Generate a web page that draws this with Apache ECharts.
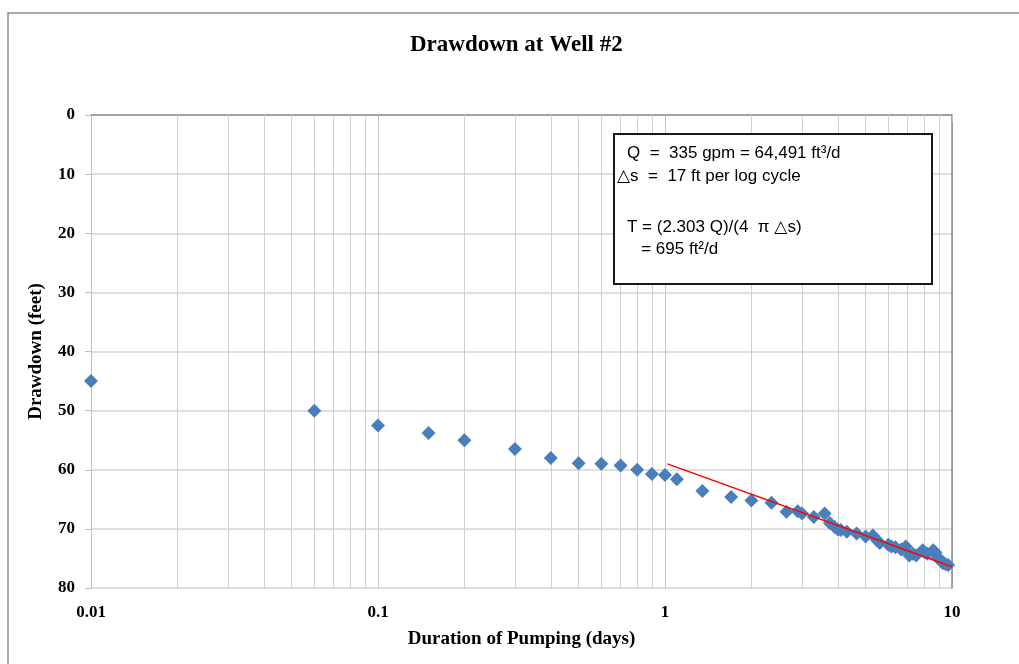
<!DOCTYPE html>
<html>
<head>
<meta charset="utf-8">
<script src="https://cdn.jsdelivr.net/npm/echarts@6/dist/echarts.min.js"></script>
<style>html,body{margin:0;padding:0;background:#fff}#c{width:1019px;height:664px}</style>
</head>
<body>
<div id="c"></div>
<script>
var days = [0.01, 0.06, 0.1, 0.15, 0.2, 0.3, 0.4, 0.5, 0.6, 0.7, 0.8, 0.9, 1.0, 1.1, 1.35, 1.7, 2.0, 2.35, 2.65, 2.9, 3.0, 3.3, 3.6, 3.75, 3.9, 4.0, 4.1, 4.3, 4.65, 5.0, 5.3, 5.5, 5.6, 6.0, 6.15, 6.35, 6.65, 6.9, 7.1, 7.3, 7.5, 7.9, 8.0, 8.2, 8.6, 8.75, 8.9, 9.1, 9.3, 9.5, 9.7];
var drawdown = [45, 50, 52.5, 53.8, 55, 56.5, 58, 58.9, 59, 59.3, 60, 60.7, 60.9, 61.6, 63.6, 64.6, 65.2, 65.6, 67.1, 67.0, 67.4, 68.0, 67.4, 69.0, 69.7, 70.1, 70.2, 70.5, 70.8, 71.3, 71.1, 72.0, 72.4, 72.7, 73.0, 73.1, 73.5, 73.0, 74.5, 74.2, 74.5, 73.6, 73.9, 74.2, 73.6, 74.0, 74.9, 75.2, 75.8, 76.0, 76.1];
var fitDays = [1.02, 10];
var fitDrawdown = [59, 76.4];
var minorTicks = [0.02,0.03,0.04,0.05,0.06,0.07,0.08,0.09,0.2,0.3,0.4,0.5,0.6,0.7,0.8,0.9,2,3,4,5,6,7,8,9];
var yTicks = [0, 10, 20, 30, 40, 50, 60, 70, 80];

var serif = "'Liberation Serif','DejaVu Serif',serif";
var sans = "'Liberation Sans','DejaVu Sans',sans-serif";

var chart = echarts.init(document.getElementById('c'), null, {renderer: 'canvas'});
var pts = days.map(function (d, i) { return [d, drawdown[i]]; });
var fit = fitDays.map(function (d, i) { return [d, fitDrawdown[i]]; });

chart.setOption({
  animation: false,
  backgroundColor: '#fff',
  title: {
    text: 'Drawdown at Well #2',
    left: 405, top: 29,
    textStyle: {fontFamily: serif, fontWeight: 'bold', fontSize: 23, color: '#000'}
  },
  grid: {left: 91, right: 67, top: 115, bottom: 76, containLabel: false},
  xAxis: [{
    type: 'log', logBase: 10, min: 0.01, max: 10,
    position: 'bottom',
    name: 'Duration of Pumping (days)', nameLocation: 'middle', nameGap: 42,
    nameTextStyle: {fontFamily: serif, fontWeight: 'bold', fontSize: 19, color: '#000'},
    axisLine: {show: false},
    axisTick: {show: true, length: 7, lineStyle: {color: '#bfbfbf'}},
    axisLabel: {fontFamily: serif, fontWeight: 'bold', fontSize: 17, color: '#000', margin: 16,
      formatter: function (v) { return String(+v.toPrecision(3)); }},
    splitLine: {show: true, lineStyle: {color: '#c8c8c8', width: 1}}
  }, {
    type: 'log', logBase: 10, min: 0.01, max: 10, position: 'top',
    axisLine: {show: true, lineStyle: {color: '#8c8c8c', width: 1.5}},
    axisTick: {show: false}, axisLabel: {show: false}, splitLine: {show: false}
  }],
  yAxis: [{
    type: 'value', inverse: true, min: 0, max: 80, interval: 10,
    name: 'Drawdown (feet)', nameLocation: 'middle', nameGap: 45, nameRotate: 90,
    nameTextStyle: {fontFamily: serif, fontWeight: 'bold', fontSize: 19, color: '#000'},
    axisLine: {show: true, lineStyle: {color: '#bfbfbf'}},
    axisTick: {show: true, length: 6, lineStyle: {color: '#bfbfbf'}},
    axisLabel: {fontFamily: serif, fontWeight: 'bold', fontSize: 17, color: '#000', margin: 16},
    splitLine: {show: true, lineStyle: {color: '#d4d4d4', width: 1.5}}
  }, {
    type: 'value', inverse: true, min: 0, max: 80, interval: 10, position: 'right',
    axisLine: {show: true, lineStyle: {color: '#8c8c8c', width: 1.5}},
    axisTick: {show: false}, axisLabel: {show: false}, splitLine: {show: false}
  }],
  series: [{
    type: 'scatter', name: 'minor', data: [], z: 1,
    markLine: {
      silent: true, symbol: 'none', label: {show: false}, z: 1,
      lineStyle: {color: '#cfcfcf', width: 1, type: 'solid'},
      data: minorTicks.map(function (t) { return {xAxis: t}; })
    }
  }, {
    type: 'scatter', name: 'Drawdown', data: pts,
    symbol: 'path://M0,-1L1,0L0,1L-1,0Z', symbolSize: 14,
    itemStyle: {color: '#4a7ebb', borderWidth: 0, opacity: 1}, z: 5
  }, {
    type: 'line', name: 'fit', data: fit, symbol: 'none',
    lineStyle: {color: '#ff0000', width: 1.5}, z: 6
  }],
  graphic: [
    {type: 'rect', shape: {x: 8, y: 13, width: 1100, height: 700},
     style: {fill: 'none', stroke: '#8c8c8c', lineWidth: 1.5}, silent: true, z: 100},
    {type: 'rect', shape: {x: 614, y: 134, width: 318, height: 150},
     style: {fill: '#fff', stroke: '#1a1a1a', lineWidth: 2}, z: 100},
    {type: 'text', x: 627, y: 145, z: 101,
     style: {text: 'Q  =  335 gpm = 64,491 ft\u00b3/d', font: '17px ' + sans, fill: '#000'}},
    {type: 'text', x: 617, y: 168, z: 101,
     style: {text: '\u25b3s  =  17 ft per log cycle', font: '17px ' + sans, fill: '#000'}},
    {type: 'text', x: 627, y: 219, z: 101,
     style: {text: 'T = (2.303 Q)/(4  \u03c0 \u25b3s)', font: '17px ' + sans, fill: '#000'}},
    {type: 'text', x: 627, y: 241, z: 101,
     style: {text: '   = 695 ft\u00b2/d', font: '17px ' + sans, fill: '#000'}}
  ]
});
</script>
</body>
</html>
